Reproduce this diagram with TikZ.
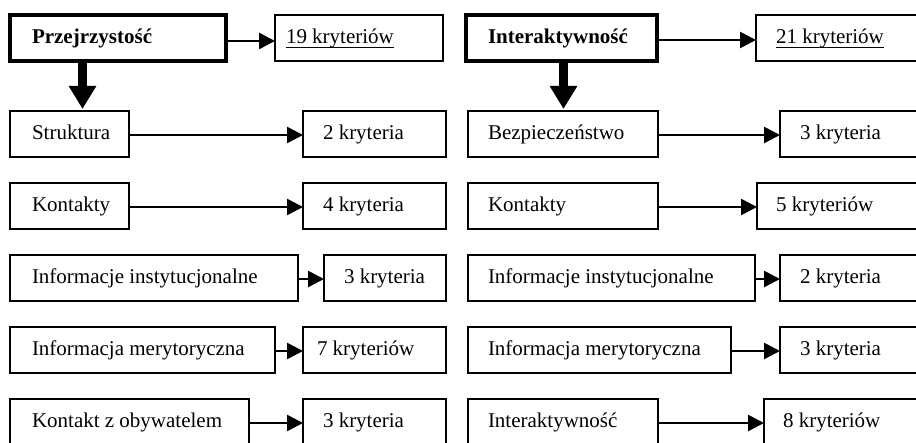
\documentclass[tikz,border=0pt]{standalone}
\usepackage{fontspec}
\setmainfont{Liberation Serif}
\usetikzlibrary{arrows.meta}
\newcommand\boxtxt[3]{\makebox[#1][l]{\hspace*{#2}#3}}
\newcommand\myul[1]{\setbox0\hbox{#1}\rlap{\rule[-4pt]{\wd0}{1.2pt}}\box0}
\begin{document}
\begin{tikzpicture}[x=1pt,y=-1pt,
  box/.style={draw, line width=2.4pt, rectangle, inner sep=0pt, outer sep=0pt,
    minimum height=46pt, text height=16pt, text depth=4pt, anchor=north west,
    font=\fontsize{21}{25}\selectfont},
  thickbox/.style={box, line width=4.2pt, font=\fontsize{21}{25}\selectfont\bfseries},
  conn/.style={line width=2.6pt, -{Triangle[length=16pt,width=16pt]}},
  bigarrow/.style={line width=9pt, -{Triangle[length=23pt,width=26pt]}}]
\useasboundingbox (0,0) rectangle (916,443);
\clip (0,0) rectangle (916,443);
% left column
\node[thickbox] (P) at (10,15) {\boxtxt{216pt}{22pt}{Przejrzystość}};
\node[box] (K19) at (275,15) {\boxtxt{168pt}{11pt}{\myul{19 kryteriów}}};
\node[box] (L1) at (10,111) {\boxtxt{119pt}{22pt}{Struktura}};
\node[box] (L1k) at (303,111) {\boxtxt{143pt}{20pt}{2 kryteria}};
\node[box] (L2) at (10,183) {\boxtxt{119pt}{22pt}{Kontakty}};
\node[box] (L2k) at (303,183) {\boxtxt{143pt}{20pt}{4 kryteria}};
\node[box] (L3) at (10,255) {\boxtxt{288pt}{22pt}{Informacje instytucjonalne}};
\node[box] (L3k) at (324,255) {\boxtxt{122pt}{20pt}{3 kryteria}};
\node[box] (L4) at (10,327) {\boxtxt{265pt}{22pt}{Informacja merytoryczna}};
\node[box] (L4k) at (303,327) {\boxtxt{143pt}{14pt}{7 kryteriów}};
\node[box] (L5) at (10,399) {\boxtxt{239pt}{22pt}{Kontakt z obywatelem}};
\node[box] (L5k) at (303,399) {\boxtxt{143pt}{20pt}{3 kryteria}};
% right column
\node[thickbox] (I) at (466,15) {\boxtxt{191pt}{22pt}{Interaktywność}};
\node[box] (K21) at (756,15) {\boxtxt{184pt}{20pt}{\myul{21 kryteriów}}};
\node[box] (R1) at (468,111) {\boxtxt{190pt}{20pt}{Bezpieczeństwo}};
\node[box] (R1k) at (780,111) {\boxtxt{160pt}{20pt}{3 kryteria}};
\node[box] (R2) at (468,183) {\boxtxt{190pt}{20pt}{Kontakty}};
\node[box] (R2k) at (757,183) {\boxtxt{183pt}{19pt}{5 kryteriów}};
\node[box] (R3) at (468,255) {\boxtxt{287pt}{20pt}{Informacje instytucjonalne}};
\node[box] (R3k) at (780,255) {\boxtxt{160pt}{20pt}{2 kryteria}};
\node[box] (R4) at (468,327) {\boxtxt{263pt}{20pt}{Informacja merytoryczna}};
\node[box] (R4k) at (780,327) {\boxtxt{160pt}{20pt}{3 kryteria}};
\node[box] (R5) at (468,399) {\boxtxt{190pt}{20pt}{Interaktywność}};
\node[box] (R5k) at (764,399) {\boxtxt{176pt}{19pt}{8 kryteriów}};
% connectors
\draw[conn] ([yshift=-3pt]P.east) -- ([yshift=-3pt]K19.west);
\draw[conn] ([yshift=-2pt]I.east) -- ([yshift=-2pt]K21.west);
\foreach \a in {L1,L2,L3,L4,L5,R1,R2,R3,R4,R5}
  \draw[conn] ([yshift=-1pt]\a.east) -- ([yshift=-1pt]\a k.west);
\coordinate (ax) at (82.5,0);
\coordinate (bx) at (563.5,0);
\draw[bigarrow] (P.south -| ax) -- ([yshift=2pt]L1.north -| ax);
\draw[bigarrow] (I.south -| bx) -- ([yshift=2pt]R1.north -| bx);
\end{tikzpicture}
\end{document}
